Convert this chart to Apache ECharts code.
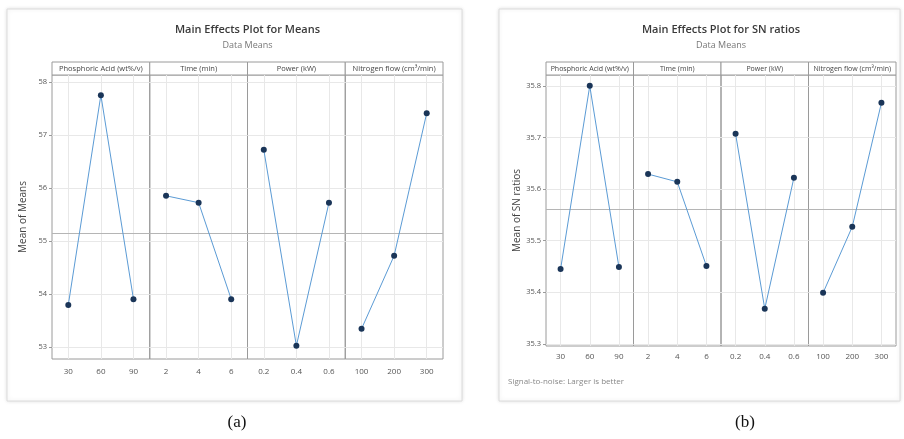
<!DOCTYPE html>
<html>
<head>
<meta charset="utf-8">
<script src="https://cdn.jsdelivr.net/npm/echarts@6/dist/echarts.min.js"></script>
<style>
  html, body { margin: 0; padding: 0; background: #fff; }
  #main { width: 904px; height: 439px; }
</style>
</head>
<body>
<div id="main"></div>
<script>
// factors and levels (shared by both plots)
const factorNames = ['Phosphoric Acid (wt%/v)', 'Time (min)', 'Power (kW)', 'Nitrogen flow (cm³/min)'];
const levelLabels = [
    ['30', '60', '90'],
    ['2', '4', '6'],
    ['0.2', '0.4', '0.6'],
    ['100', '200', '300'],
];

// (a) means of means
const meansPhos = [53.79, 57.75, 53.90];
const meansTime = [55.85, 55.72, 53.90];
const meansPower = [56.72, 53.02, 55.72];
const meansNitrogen = [53.34, 54.72, 57.41];
const meansTicks = [53, 54, 55, 56, 57, 58];

// (b) means of SN ratios
const snPhos = [35.445, 35.800, 35.449];
const snTime = [35.629, 35.614, 35.451];
const snPower = [35.707, 35.368, 35.622];
const snNitrogen = [35.399, 35.527, 35.767];
const snTicks = [35.3, 35.4, 35.5, 35.6, 35.7, 35.8];

const chart = echarts.init(document.getElementById('main'));

const lineColor = '#5b9bd5';
const dotColor = '#1a3558';
const axisColor = '#9a9a9a';
const gridLineColor = '#e8e8e8';

// layout of the two plots
const plots = [
    {
        title: 'Main Effects Plot for Means', sub: 'Data Means', yName: 'Mean of Means',
        values: [meansPhos, meansTime, meansPower, meansNitrogen], ticks: meansTicks,
        yMin: 52.77, yMax: 58.13, digits: 0,
        frame: [7, 9, 455, 392], left: 52, right: 443, top: 75, bottom: 359,
        labelMargin: 9, headerFont: 7.5, caption: '(a)', captionX: 237,
    },
    {
        title: 'Main Effects Plot for SN ratios', sub: 'Data Means', yName: 'Mean of SN ratios',
        values: [snPhos, snTime, snPower, snNitrogen], ticks: snTicks,
        yMin: 35.296, yMax: 35.821, digits: 1,
        frame: [499, 9, 401, 392], left: 546, right: 896, top: 75, bottom: 346,
        labelMargin: 7, headerFont: 7, caption: '(b)', captionX: 745,
        footer: 'Signal-to-noise: Larger is better',
    },
];

const grids = [];
const xAxes = [];
const yAxes = [];
const series = [];
const graphics = [];

plots.forEach((p) => {
    const [fx, fy, fw, fh] = p.frame;
    graphics.push({
        type: 'rect', z: -10,
        shape: {x: fx, y: fy, width: fw, height: fh},
        style: {fill: '#fff', stroke: '#dcdcdc', lineWidth: 1, shadowBlur: 4, shadowColor: 'rgba(0,0,0,0.12)'},
    });
    const cx = (p.left + p.right) / 2;
    graphics.push({
        type: 'text', x: cx, y: 30,
        style: {text: p.title, fill: '#3a3a3a', font: '600 11px "Open Sans", sans-serif', align: 'center', verticalAlign: 'middle'},
    });
    graphics.push({
        type: 'text', x: cx, y: 45,
        style: {text: p.sub, fill: '#777', font: '9px "Open Sans", sans-serif', align: 'center', verticalAlign: 'middle'},
    });
    graphics.push({
        type: 'text', x: p.captionX, y: 423,
        style: {text: p.caption, fill: '#111', font: '17px "Liberation Serif", serif', align: 'center', verticalAlign: 'middle'},
    });
    if (p.footer) {
        graphics.push({
            type: 'text', x: fx + 9, y: 382,
            style: {text: p.footer, fill: '#888', font: '8px "Open Sans", sans-serif', verticalAlign: 'middle'},
        });
    }

    const pw = (p.right - p.left) / 4;
    p.values.forEach((vals, fi) => {
        const idx = grids.length;
        const gl = p.left + fi * pw;
        grids.push({
            left: gl, width: pw, top: p.top, height: p.bottom - p.top,
            show: true, borderColor: axisColor, borderWidth: 1, backgroundColor: 'transparent',
        });
        // header strip
        graphics.push({
            type: 'rect',
            shape: {x: gl, y: p.top - 13, width: pw, height: 13},
            style: {fill: '#fff', stroke: axisColor, lineWidth: 1},
        });
        graphics.push({
            type: 'text', x: gl + pw / 2, y: p.top - 6.5,
            style: {text: factorNames[fi], fill: '#444', font: p.headerFont + 'px "Open Sans", sans-serif', align: 'center', verticalAlign: 'middle'},
        });

        xAxes.push({
            type: 'category', gridIndex: idx, data: levelLabels[fi], boundaryGap: true,
            axisLine: {show: false},
            axisTick: {show: false},
            axisLabel: {color: '#555', fontSize: 8, margin: p.labelMargin, fontFamily: 'Open Sans'},
            splitLine: {show: false},
        });
        yAxes.push({
            type: 'value', gridIndex: idx, min: p.yMin, max: p.yMax,
            name: fi === 0 ? p.yName : '', nameLocation: 'middle', nameGap: 24,
            nameTextStyle: {color: '#444', fontSize: 10, fontFamily: 'Open Sans'},
            axisLine: {show: false},
            axisTick: {show: fi === 0, length: 3, lineStyle: {color: axisColor}, customValues: p.ticks},
            axisLabel: {
                show: fi === 0, color: '#555', fontSize: 7.5, margin: 5, fontFamily: 'Open Sans',
                customValues: p.ticks,
                formatter: v => v.toFixed(p.digits),
            },
            splitLine: {show: true, lineStyle: {color: gridLineColor, width: 1}},
        });

        const all = p.values.flat();
        const mean = all.reduce((a, b) => a + b, 0) / all.length;
        series.push({
            type: 'line', xAxisIndex: idx, yAxisIndex: idx,
            data: vals,
            symbol: 'circle', symbolSize: 6,
            lineStyle: {color: lineColor, width: 1},
            itemStyle: {color: dotColor},
            z: 5,
            markLine: {
                silent: true, symbol: 'none', animation: false,
                label: {show: false},
                data: [
                    ...levelLabels[fi].map(l => ({xAxis: l, lineStyle: {color: gridLineColor, type: 'solid', width: 1}})),
                    {yAxis: mean, lineStyle: {color: '#b5b5b5', type: 'solid', width: 1}},
                ],
            },
        });
    });
});

chart.setOption({
    animation: false,
    grid: grids,
    xAxis: xAxes,
    yAxis: yAxes,
    series: series,
    graphic: graphics,
});
</script>
</body>
</html>
